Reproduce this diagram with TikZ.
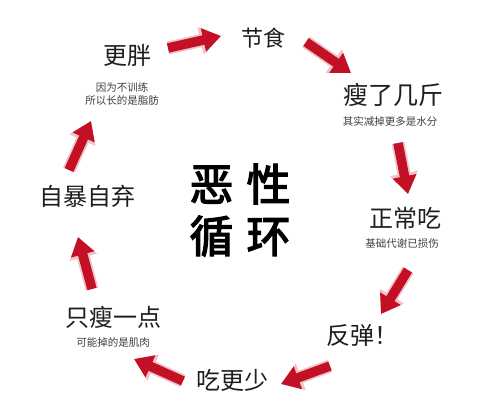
\documentclass[tikz,border=0pt]{standalone}
\usepackage{fontspec}
\newfontfamily\cjk{Noto Sans CJK SC}
\newfontfamily\cjkbold[FakeBold=3]{Noto Sans CJK SC}
\usetikzlibrary{arrows.meta}
\definecolor{arrred}{RGB}{196,16,36}
\definecolor{txt}{RGB}{30,30,30}
\tikzset{
  main/.style={font=\cjk\fontsize{24}{26}\selectfont, text=txt, inner sep=0pt},
  small/.style={font=\cjk\fontsize{10.5}{13}\selectfont, text=txt!85, inner sep=0pt, align=center},
  big/.style={font=\cjkbold\fontsize{44}{48}\selectfont, text=black, inner sep=0pt},
  halo/.style={draw=arrred!25, line width=13pt, -{Triangle[width=27pt,length=21pt]}, line cap=butt},
  bigarrow/.style={draw=arrred, line width=9.5pt, -{Triangle[width=23pt,length=18pt]}, line cap=butt},
}
\newcommand{\redarrow}[2]{\draw[halo] (#1) -- (#2); \draw[bigarrow] (#1) -- (#2);}
\begin{document}
\begin{tikzpicture}[x=1pt,y=-1pt]
\fill[white] (0,0) rectangle (500,413);
\useasboundingbox (0,0) rectangle (500,413);

\node[main, font=\cjk\fontsize{22}{24}\selectfont] (jieshi) at (263,38) {节食};
\node[main] (gengpang) at (127,55) {更胖};
\node[small] (gengpangs) at (122,94) {因为不训练\\所以长的是脂肪};
\node[main, font=\cjk\fontsize{25}{27}\selectfont] (shou) at (393,95) {瘦了几斤};
\node[small] (shous) at (390,121) {其实减掉更多是水分};
\node[main] (zhengchang) at (405,218) {正常吃};
\node[small] (zhengchangs) at (402,244) {基础代谢已损伤};
\node[main] (fantan) at (362,335) {反弹！};
\node[main] (chigengshao) at (232,380) {吃更少};
\node[main] (zhishou) at (113,317) {只瘦一点};
\node[small] (zhishous) at (113,343) {可能掉的是肌肉};
\node[main] (zibao) at (87,196) {自暴自弃};
\node[big] (exing) at (240,184) {恶\hspace{13pt}性};
\node[big] (xunhuan) at (240,236) {循\hspace{13pt}环};

\coordinate (a1s) at (168,48); \coordinate (a1e) at (221,36);
\coordinate (a2s) at (306,42); \coordinate (a2e) at (351,73);
\coordinate (a3s) at (398,143); \coordinate (a3e) at (408,194);
\coordinate (a4s) at (408,270); \coordinate (a4e) at (381,314);
\coordinate (a5s) at (330,366); \coordinate (a5e) at (281,384);
\coordinate (a6s) at (183,381); \coordinate (a6e) at (134,359);
\coordinate (a7s) at (92,289); \coordinate (a7e) at (78,237);
\coordinate (a8s) at (69,170); \coordinate (a8e) at (91,121);

\redarrow{a1s}{a1e}
\redarrow{a2s}{a2e}
\redarrow{a3s}{a3e}
\redarrow{a4s}{a4e}
\redarrow{a5s}{a5e}
\redarrow{a6s}{a6e}
\redarrow{a7s}{a7e}
\redarrow{a8s}{a8e}
\end{tikzpicture}
\end{document}
